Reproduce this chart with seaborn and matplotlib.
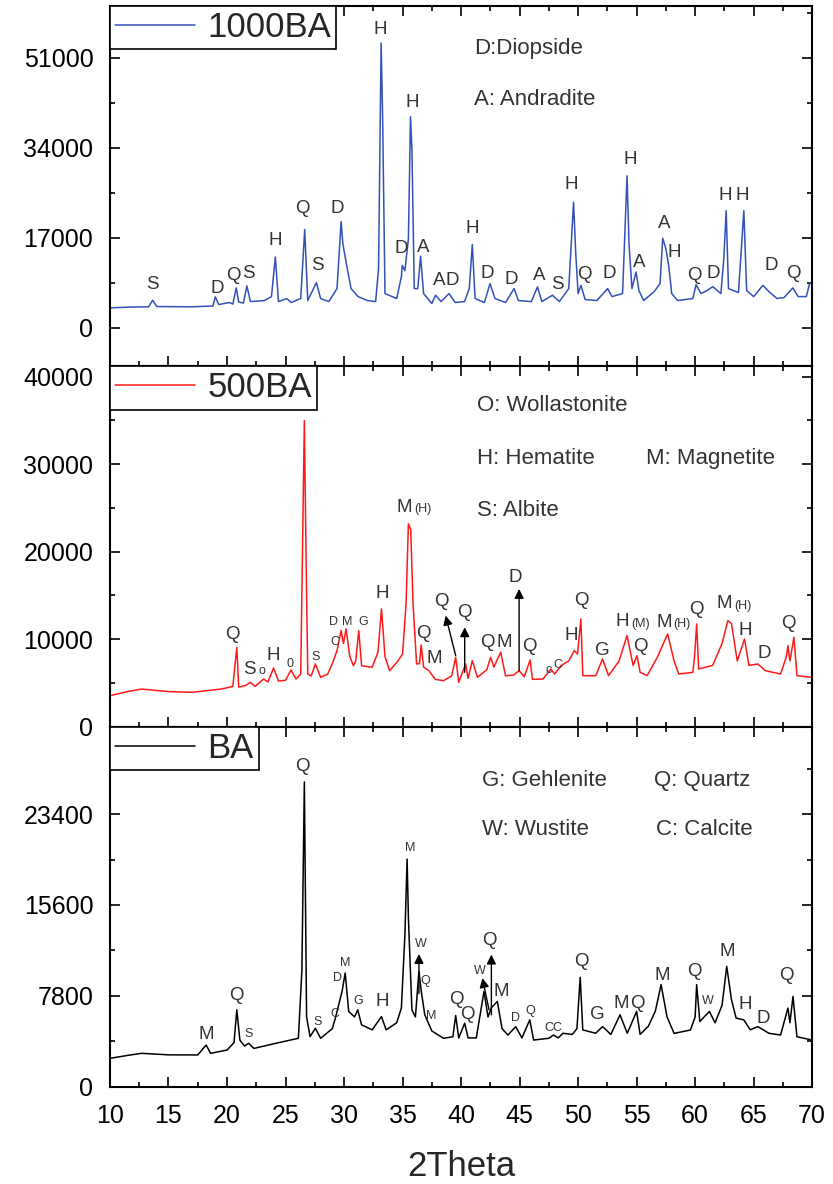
import matplotlib
matplotlib.use("Agg")
import matplotlib.pyplot as plt
from matplotlib.ticker import MultipleLocator
import seaborn as sns

# ---------------- 1000BA pattern (2theta, counts) ----------------
theta_1000 = [10.0, 12.0, 13.3, 13.65, 14.0, 17.0, 18.8, 19.0, 19.3, 20.2, 20.5, 20.79, 21.0, 21.4,
              21.7, 22.0, 23.2, 23.8, 24.13, 24.4, 25.1, 25.5, 26.3, 26.64, 26.9, 27.64, 28.0, 28.7,
              29.4, 29.75, 29.9, 30.2, 30.6, 31.2, 32.0, 32.7, 32.95, 33.17, 33.3, 33.5, 34.5, 34.9,
              34.97, 35.2, 35.5, 35.68, 35.8, 36.0, 36.3, 36.54, 36.8, 37.5, 37.82, 38.3, 38.97, 39.5,
              40.3, 40.7, 40.96, 41.2, 42.0, 42.47, 42.9, 43.8, 44.53, 44.9, 46.0, 46.53, 46.9, 47.81,
              48.4, 49.2, 49.61, 49.8, 50.0, 50.24, 50.6, 51.6, 52.52, 52.9, 53.8, 54.18, 54.35, 54.6,
              54.95, 55.2, 55.6, 56.5, 57.0, 57.23, 57.5, 57.74, 58.0, 58.5, 59.8, 60.08, 60.5, 61.0,
              61.51, 62.2, 62.45, 62.65, 62.85, 63.7, 63.95, 64.16, 64.4, 65.0, 65.79, 66.3, 67.0,
              67.6, 68.35, 68.8, 69.5, 69.8, 70.0]
counts_1000 = [3800, 3950, 3990, 5230, 4040, 3990, 4140, 5870, 4420, 4800, 4510, 7560, 4890, 4700,
               7940, 4980, 5170, 5920, 13390, 4980, 5550, 4800, 5550, 18580, 5170, 8560, 5550, 4980,
               7430, 20080, 15890, 12130, 7430, 5920, 5170, 4980, 11190, 53820, 39400, 6490, 5550, 9680,
               11810, 10810, 16830, 39900, 33750, 7430, 7430, 13580, 6490, 4610, 6170, 4980, 6490, 4800,
               4980, 7430, 15760, 5550, 4800, 8370, 5550, 4800, 7430, 5170, 4980, 7750, 4980, 6170,
               4980, 7430, 23730, 14010, 6490, 8050, 5360, 5170, 7430, 5920, 6490, 28730, 15890, 7430,
               10570, 7050, 5170, 6860, 8370, 16960, 14950, 11810, 6490, 5170, 5550, 8180, 6490, 7050,
               7800, 6490, 13070, 22150, 7430, 6680, 14950, 22150, 7050, 5920, 8050, 6860, 5550,
               5740, 7560, 5920, 5920, 8560, 8180]

# ---------------- 500BA pattern ----------------
theta_500 = [10.0, 11.5, 12.7, 15.0, 17.0, 19.5, 20.5, 20.84, 21.0, 21.6, 21.99, 22.4, 23.13, 23.5,
             23.98, 24.4, 25.0, 25.47, 25.9, 26.3, 26.45, 26.61, 26.75, 26.9, 27.2, 27.55, 28.0, 28.6,
             29.0, 29.4, 29.75, 29.95, 30.17, 30.5, 30.8, 31.0, 31.26, 31.5, 32.4, 32.9, 33.2, 33.5,
             33.9, 34.6, 35.0, 35.3, 35.5, 35.7, 35.9, 36.2, 36.45, 36.59, 36.8, 37.25, 37.8, 38.5,
             39.2, 39.54, 39.8, 40.39, 40.6, 40.96, 41.4, 42.2, 42.53, 42.8, 43.39, 43.8, 44.5, 44.96,
             45.4, 45.9, 46.1, 47.0, 47.67, 48.0, 48.53, 49.2, 49.67, 49.95, 50.24, 50.4, 51.5, 52.09,
             52.6, 53.5, 54.18, 54.7, 55.03, 55.3, 55.9, 56.8, 57.65, 58.2, 58.6, 59.8, 59.95, 60.13,
             60.3, 61.5, 62.3, 62.79, 63.1, 63.6, 64.22, 64.6, 65.36, 66.0, 67.3, 67.8, 67.93, 68.1,
             68.44, 68.7, 70.0]
counts_500 = [3530, 4000, 4290, 4000, 3920, 4290, 4600, 9070, 4520, 4700, 5060, 4600, 5440, 5100,
              6700, 5200, 5300, 6470, 5440, 6000, 20000, 34980, 20000, 6010, 5800, 7160, 5630, 6000,
              7200, 8680, 10970, 9500, 11160, 8000, 6960, 7500, 10970, 6960, 6780, 8500, 13450, 8000,
              6390, 7500, 8300, 14000, 23190, 22500, 14000, 7160, 7200, 9330, 6800, 6390, 5400, 5250,
              5800, 7920, 5060, 7160, 5500, 7540, 5630, 6500, 7920, 6800, 8500, 5800, 5900, 6390,
              5700, 7610, 5400, 5440, 6580, 6000, 6960, 7500, 8680, 8300, 12310, 5820, 5820, 7730,
              5820, 7500, 10400, 7000, 8110, 6200, 5820, 8000, 10590, 7500, 6010, 6200, 8000, 11740,
              6580, 7000, 9500, 12110, 11800, 7500, 10020, 7000, 7160, 6390, 6010, 8000, 9250, 7500,
              10210, 5820, 5630]

# ---------------- BA pattern ----------------
theta_ba = [10.0, 11.5, 12.7, 15.0, 17.5, 18.22, 18.6, 20.0, 20.6, 20.84, 21.1, 21.5, 21.84, 22.3,
            24.0, 26.1, 26.4, 26.61, 26.8, 27.1, 27.55, 28.0, 29.0, 29.26, 29.83, 30.1, 30.4, 30.9,
            31.17, 31.5, 32.4, 33.2, 33.6, 34.5, 34.9, 35.2, 35.39, 35.5, 35.8, 36.1, 36.4, 36.6,
            36.9, 37.5, 38.5, 39.3, 39.54, 39.8, 40.31, 40.6, 41.3, 41.96, 42.3, 42.6, 43.1, 43.5,
            44.0, 44.67, 45.2, 45.87, 46.2, 47.5, 47.9, 48.3, 48.7, 49.5, 49.9, 50.18, 50.4, 51.5,
            52.09, 52.8, 53.58, 54.2, 55.0, 55.3, 56.0, 56.6, 57.09, 57.6, 58.2, 59.6, 60.0, 60.13,
            60.4, 61.22, 61.7, 62.3, 62.7, 63.1, 63.5, 64.16, 64.7, 65.36, 66.3, 67.3, 67.93, 68.1,
            68.36, 68.7, 70.0]
counts_ba = [2450, 2700, 2880, 2750, 2740, 3590, 2880, 3160, 3800, 6610, 4020, 3500, 3740, 3300,
             3700, 4170, 10000, 26150, 6000, 4310, 5030, 4170, 5000, 5900, 8190, 9770, 6470, 6000,
             6610, 5320, 4890, 6030, 4890, 5500, 6760, 13000, 19540, 14510, 6610, 6000, 9910, 8190,
             6180, 4800, 4170, 4300, 6120, 4200, 5460, 4200, 4200, 8190, 6000, 6800, 7330, 5000,
             4450, 5170, 4200, 5750, 4020, 4170, 4450, 4200, 4600, 4500, 5000, 9400, 4890, 4600,
             5170, 4500, 6180, 4600, 6470, 4500, 5200, 6500, 8770, 6000, 4590, 4880, 6000, 8770,
             5610, 6470, 5500, 7000, 10340, 7500, 5900, 5750, 4900, 5170, 4600, 4450, 6760, 5500,
             7760, 4300, 4020]

# ---------------- peak labels (2theta, counts, text) ----------------
labels_1000 = [(13.66, 8180, "S"), (19.14, 7430, "D"), (20.56, 9870, "Q"), (21.84, 10250, "S"),
               (24.13, 16510, "H"), (26.46, 22470, "Q"), (27.75, 11810, "S"), (29.46, 22600, "D"),
               (33.06, 56450, "H"), (35.83, 42650, "H"), (34.91, 14950, "D"), (36.77, 15270, "A"),
               (38.11, 8990, "A"), (39.25, 8990, "D"), (40.97, 18710, "H"), (42.25, 10250, "D"),
               (44.33, 9180, "D"), (46.67, 9930, "A"), (48.24, 8180, "S"), (49.38, 27170, "H"),
               (50.52, 10060, "Q"), (52.66, 10250, "D"), (54.46, 31870, "H"), (55.23, 12450, "A"),
               (57.37, 19650, "A"), (58.18, 14330, "H"), (59.94, 9930, "Q"), (61.52, 10250, "D"),
               (62.6, 24970, "H"), (64.03, 24970, "H"), (66.51, 11810, "D"), (68.36, 10250, "Q")]

labels_500 = [(20.5, 10510, "Q"), (21.93, 6580, "S"), (23.98, 8110, "H"), (33.26, 15250, "H"),
              (35.12, 25100, "M"), (36.76, 10590, "Q"), (37.68, 7730, "M"), (38.31, 14260, "Q"),
              (40.25, 13080, "Q"), (42.25, 9640, "Q"), (43.73, 9640, "M"), (44.59, 17080, "D"),
              (45.81, 9140, "Q"), (49.44, 10400, "H"), (50.24, 14400, "Q"), (52.04, 8680, "G"),
              (53.8, 11960, "H"), (55.31, 9140, "Q"), (57.35, 11930, "M"), (60.09, 13340, "Q"),
              (62.5, 14030, "M"), (64.28, 10970, "H"), (65.88, 8380, "D"), (67.94, 11740, "Q")]
small_labels_500 = [(22.98, 6350, "o"), (25.41, 7160, "0"), (27.55, 7990, "S"), (29.2, 9640, "C"),
                    (29.12, 11970, "D"), (30.26, 11970, "M"), (31.63, 11970, "G"),
                    (36.74, 24900, "(H)"), (47.5, 6500, "c"), (48.3, 7000, "C"),
                    (55.34, 11700, "(M)"), (58.86, 11700, "(H)"), (64.12, 13800, "(H)")]

labels_ba = [(18.22, 4520, "M"), (20.79, 7840, "Q"), (26.41, 27490, "Q"), (33.26, 7330, "H"),
             (39.62, 7470, "Q"), (40.54, 6240, "Q"), (42.39, 12560, "Q"), (43.45, 8190, "M"),
             (50.24, 10720, "Q"), (51.61, 6240, "G"), (53.66, 7190, "M"), (55.09, 7190, "Q"),
             (57.23, 9570, "M"), (59.94, 9860, "Q"), (62.74, 11640, "M"), (64.28, 7100, "H"),
             (65.8, 5900, "D"), (67.79, 9570, "Q")]
small_labels_ba = [(21.84, 4520, "S"), (27.75, 5600, "S"), (29.2, 6240, "C"), (29.41, 9340, "D"),
                   (30.12, 10640, "M"), (31.17, 7390, "G"), (35.62, 20490, "M"), (36.6, 12270, "W"),
                   (36.97, 9110, "Q"), (37.48, 6120, "M"), (41.62, 9910, "W"), (44.67, 5900, "D"),
                   (45.9, 6520, "Q"), (47.5, 5090, "C"), (48.2, 5090, "C"), (61.08, 7390, "W")]

# arrows: (from 2theta, from counts, to 2theta, to counts)
arrows_500 = [(39.54, 8110, 38.68, 12690), (40.31, 6210, 40.31, 11360), (44.96, 6390, 44.96, 15740)]
arrows_ba = [(36.4, 8000, 36.4, 11400), (42.39, 6610, 41.82, 9340), (42.59, 6180, 42.59, 11350)]

# phase keys written inside each panel
key_1000 = [(41.1, 52880, "D:Diopside"), (41.1, 43160, "A: Andradite")]
key_500 = [(41.4, 36730, "O: Wollastonite"), (41.4, 30630, "H: Hematite"),
           (55.8, 30630, "M: Magnetite"), (41.4, 24710, "S: Albite")]
key_ba = [(41.82, 26240, "G: Gehlenite"), (56.52, 26240, "Q: Quartz"),
          (41.82, 22040, "W: Wustite"), (56.66, 22040, "C: Calcite")]

sns.set_style("ticks")
plt.rcParams['font.family'] = ['Liberation Sans', 'DejaVu Sans']

fig, axes = plt.subplots(3, 1, figsize=(8.33, 11.84), dpi=100, sharex=True)
fig.subplots_adjust(left=0.132, right=0.975, top=0.995, bottom=0.082, hspace=0)

panels = [
    (theta_1000, counts_1000, "1000BA", "#3352b8", (-7240, 60830), [0, 17000, 34000, 51000], 8500,
     labels_1000, [], [], key_1000),
    (theta_500, counts_500, "500BA", "#ff1a1a", (0, 41200), [0, 10000, 20000, 30000, 40000], 5000,
     labels_500, small_labels_500, arrows_500, key_500),
    (theta_ba, counts_ba, "BA", "black", (0, 30900), [0, 7800, 15600, 23400], 3900,
     labels_ba, small_labels_ba, arrows_ba, key_ba),
]

text_col = "#333333"
for ax, (th, cnt, name, col, ylim, yt, yminor, labs, slabs, arrs, key) in zip(axes, panels):
    sns.lineplot(x=th, y=cnt, ax=ax, color=col, lw=1.1, label=name)
    ax.set_xlim(10, 70)
    ax.set_ylim(*ylim)
    ax.set_yticks(yt)
    ax.yaxis.set_minor_locator(MultipleLocator(yminor))
    ax.xaxis.set_major_locator(MultipleLocator(5))
    ax.xaxis.set_minor_locator(MultipleLocator(2.5))
    ax.tick_params(which='both', direction='in', top=True, right=True, width=1.2, colors='black')
    ax.tick_params(which='major', length=7, labelsize=18, pad=12)
    ax.tick_params(which='minor', length=3.5)
    for sp in ax.spines.values():
        sp.set_linewidth(1.5)
        sp.set_color('black')
    ax.set_xlabel('')
    ax.set_ylabel('')

    for t, y, s in labs:
        ax.text(t, y, s, ha='center', va='center', fontsize=13.5, color=text_col)
    for t, y, s in slabs:
        ax.text(t, y, s, ha='center', va='center', fontsize=9, color=text_col)
    for t0, y0, t1, y1 in arrs:
        ax.annotate('', xy=(t1, y1), xytext=(t0, y0),
                    arrowprops=dict(arrowstyle='-|>', color='black', lw=1.0,
                                    mutation_scale=14, shrinkA=0, shrinkB=0))
    for t, y, s in key:
        ax.text(t, y, s, ha='left', va='center', fontsize=16, color=text_col)

    leg = ax.legend(loc='upper left', borderaxespad=0, fancybox=False, edgecolor='black',
                    framealpha=1, fontsize=25, handlelength=2.3, handletextpad=0.35,
                    borderpad=0.15)
    leg.get_frame().set_linewidth(1.2)

axes[2].set_xlabel('2Theta', fontsize=25, labelpad=16)

fig.savefig("out.png", dpi=100)
